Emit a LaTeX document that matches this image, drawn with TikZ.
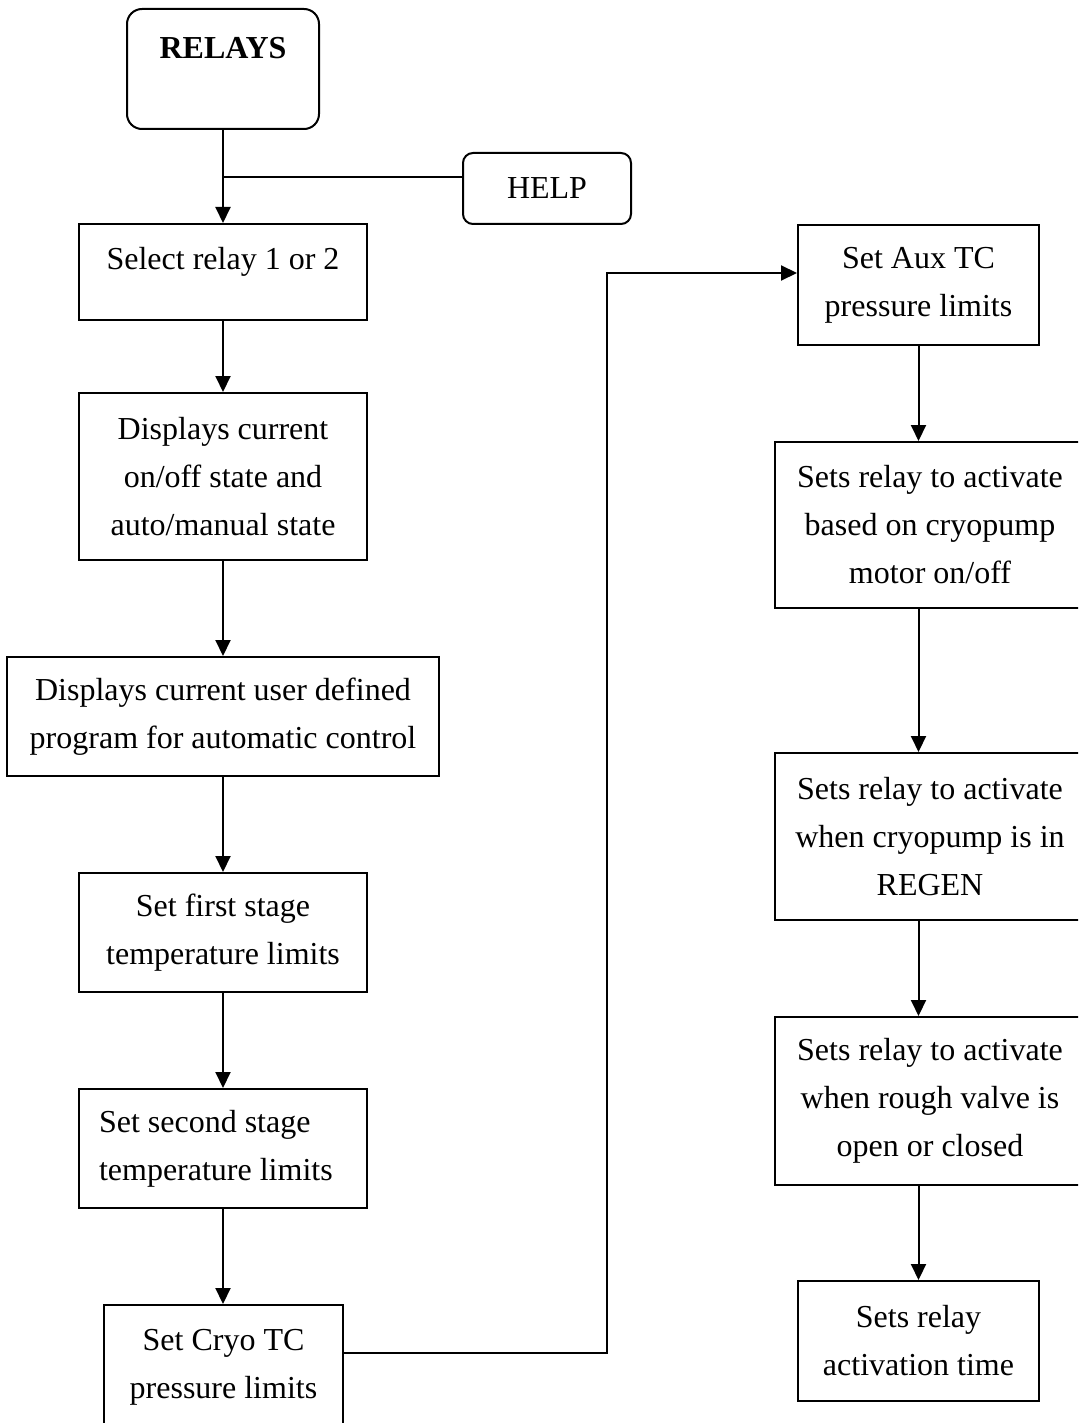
\documentclass[tikz,border=0pt]{standalone}
\usepackage{fontspec}
\setmainfont{Liberation Serif}
\usetikzlibrary{arrows.meta}

\tikzset{
  box/.style={draw, line width=1pt, align=center, inner sep=0pt,
    font=\fontsize{16}{24}\selectfont},
  roundbox/.style={box, rounded corners=#1},
  flow/.style={line width=1pt, -{Triangle[length=8pt,width=7.5pt]}},
  link/.style={line width=1pt}
}

\begin{document}
\begin{tikzpicture}[x=0.5pt, y=-0.5pt]
\useasboundingbox (0,0) rectangle (1078,1423);
\clip (0,0) rectangle (1078,1423);

% left column
\node[roundbox=7.5pt, minimum width=96pt, minimum height=60pt,
      text height=11pt, text depth=21.4pt]
  (relays) at (223,69) {\textbf{RELAYS}};
\node[roundbox=5pt, minimum width=84pt, minimum height=35.5pt,
      text height=11pt, text depth=1pt]
  (help) at (547,188.5) {HELP};
\node[box, minimum width=144pt, minimum height=48pt,
      text height=11pt, text depth=13pt]
  (select) at (223,272) {Select relay 1 or 2};
\node[box, minimum width=144pt, minimum height=83.5pt]
  (state) at (223,476.5) {Displays current\\on/off state and\\auto/manual state};
\node[box, minimum width=216pt, minimum height=59.5pt]
  (program) at (223,716.5) {Displays current user defined\\program for automatic control};
\node[box, minimum width=144pt, minimum height=59.5pt]
  (first) at (223,932.5) {Set first stage\\temperature limits};
\node[box, minimum width=144pt, minimum height=59.5pt, text width=124pt,
      align=flush left]
  (second) at (223,1148.5) {Set second stage\\temperature limits};
\node[box, minimum width=119.5pt, minimum height=62.5pt]
  (cryo) at (223.5,1367.5) {Set Cryo TC\\pressure limits};

% right column
\node[box, minimum width=120.5pt, minimum height=60pt]
  (aux) at (918.5,285) {Set Aux TC\\pressure limits};
\node[box, minimum width=155pt, minimum height=83pt]
  (motor) at (930,525) {Sets relay to activate\\based on cryopump\\motor on/off};
\node[box, minimum width=155pt, minimum height=83.5pt]
  (regen) at (930,836.5) {Sets relay to activate\\when cryopump is in\\REGEN};
\node[box, minimum width=155pt, minimum height=84pt]
  (valve) at (930,1101) {Sets relay to activate\\when rough valve is\\open or closed};
\node[box, minimum width=120.5pt, minimum height=60pt]
  (time) at (918.5,1341) {Sets relay\\activation time};

% junction of the HELP line and the path bends
\coordinate (j) at (223,177);
\coordinate (up) at (607,1353);
\coordinate (over) at (607,273);

% connectors
\draw[flow] (relays.south) -- (select.north);
\draw[link] (help.west |- j) -- (j);
\draw[flow] (select.south) -- (state.north);
\draw[flow] (state.south) -- (program.north);
\draw[flow] (program.south) -- (first.north);
\draw[flow] (first.south) -- (second.north);
\draw[flow] (second.south) -- (second.south |- cryo.north);
\draw[flow] (cryo.east |- up) -- (up) -- (over) -- (aux.west |- over);
\draw[flow] (aux.south) -- (aux.south |- motor.north);
\draw[flow] (aux.south |- motor.south) -- (aux.south |- regen.north);
\draw[flow] (aux.south |- regen.south) -- (aux.south |- valve.north);
\draw[flow] (aux.south |- valve.south) -- (time.north);
\end{tikzpicture}
\end{document}
